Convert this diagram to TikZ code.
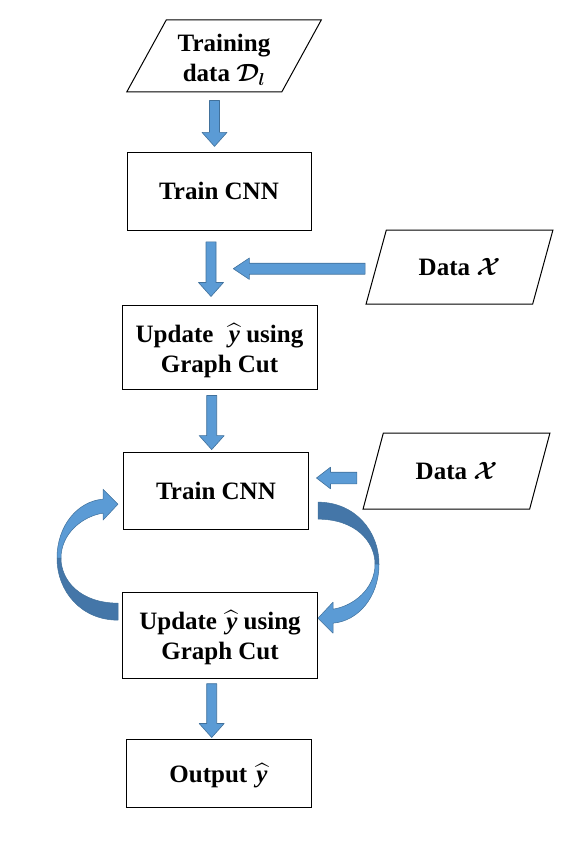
\documentclass[tikz,border=0pt]{standalone}
\usepackage{amsmath,amssymb}
\usepackage{fontspec}
\setmainfont{Liberation Serif}
\usepackage{tikz}
\usetikzlibrary{calc,shapes.geometric}
\definecolor{ink}{RGB}{0,0,0}
\definecolor{arrowfill}{RGB}{91,155,213}
\definecolor{arrowedge}{RGB}{65,113,156}
\definecolor{arrowshade}{RGB}{68,118,168}
\newcommand\flowfont{\fontsize{25}{30}\selectfont\bfseries}
\newcommand\yhat{\hspace{0.12em}$\widehat{\text{\itshape y}}$}
\newcommand\flowtext[2]{\raisebox{#1}[\height][\depth]{\begin{tabular}{@{}c@{}}#2\end{tabular}}}
\tikzset{
  stepbox/.style={draw=ink,line width=1pt,align=center,font=\flowfont,inner sep=2pt},
  databox/.style={trapezium,trapezium left angle=63,trapezium right angle=117,
    trapezium stretches=true,draw=ink,line width=1pt,align=center,font=\flowfont},
  blockarrow/.style n args={3}{draw=arrowedge,fill=arrowfill,line width=0.6pt,line join=round,
    to path={($(\tikztostart)!#1!90:(\tikztotarget)$)
      -- ($($(\tikztotarget)!#3!(\tikztostart)$)!#1!90:(\tikztotarget)$)
      -- ($($(\tikztotarget)!#3!(\tikztostart)$)!#2!90:(\tikztotarget)$)
      -- (\tikztotarget)
      -- ($($(\tikztotarget)!#3!(\tikztostart)$)!#2!-90:(\tikztotarget)$)
      -- ($($(\tikztotarget)!#3!(\tikztostart)$)!#1!-90:(\tikztotarget)$)
      -- ($(\tikztostart)!#1!-90:(\tikztotarget)$) -- cycle}},
  downarrow/.style={blockarrow={5pt}{12.5pt}{14pt}},
  sidearrow/.style={blockarrow={5.5pt}{10.7pt}{16pt}},
  ribbon/.style={draw=arrowedge,line width=0.5pt,line join=round},
  loopribbon/.pic={
    % lower half, seen from below
    \fill[ribbon,fill=arrowshade] (-100,59) .. controls (-137,59) and (-161,30) .. (-161,-3)
      -- (-157,-3) .. controls (-157,20) and (-137,42) .. (-100,42) -- cycle;
    % upper half with the head
    \fill[ribbon,fill=arrowfill] (-161,-3) .. controls (-161,-36) and (-140,-60) .. (-115,-62)
      -- (-115,-72) -- (-100,-57) -- (-115,-41) -- (-115,-48)
      .. controls (-135,-45) and (-157,-28) .. (-157,-3) -- cycle;
  }
}
\begin{document}
\begin{tikzpicture}[x=1pt,y=-1pt]
  \useasboundingbox (0,0) rectangle (581,842);

  \node[databox,minimum width=195,minimum height=72] (dataD) at (224,56)
    {\flowtext{-5pt}{Training\\data $\boldsymbol{\mathcal{D}_l}$}};
  \node[stepbox,minimum width=184,minimum height=78] (train1) at (219,191.3) {Train CNN};
  \node[stepbox,minimum width=195,minimum height=84] (update1) at (219.5,347)
    {\flowtext{-4pt}{Update\hspace{0.25em} \yhat{} using\\Graph Cut}};
  \node[databox,minimum width=187,minimum height=74] (dataX1) at (459.5,267)
    {Data $\boldsymbol{\mathcal{X}}$};
  \node[stepbox,minimum width=185,minimum height=77] (train2) at (216,491.3) {Train CNN};
  \node[databox,minimum width=187,minimum height=76] (dataX2) at (456.5,471)
    {Data $\boldsymbol{\mathcal{X}}$};
  \node[stepbox,minimum width=195,minimum height=86] (update2) at (220,635.5)
    {\flowtext{-3pt}{Update \yhat{} using\\Graph Cut}};
  \node[stepbox,minimum width=185,minimum height=68] (output) at (218.5,773)
    {\flowtext{-3pt}{Output \yhat}};

  \coordinate (join1) at (233.3,268.7);
  \coordinate (loopc) at ($(train2.south)!.5!(update2.north)$);

  % main flow
  \draw[downarrow] ([xshift=-9.5pt,yshift=-8pt]dataD.south) to ([xshift=-4.5pt,yshift=5.4pt]train1.north);
  \draw[downarrow] ([xshift=-8pt,yshift=-11pt]train1.south) to ([xshift=-8.5pt,yshift=8pt]update1.north);
  \draw[downarrow] ([xshift=-7.8pt,yshift=-6pt]update1.south) to ([xshift=-4.3pt,yshift=2.7pt]train2.north);
  \draw[downarrow] ([xshift=-8.3pt,yshift=-4.7pt]update2.south) to ([xshift=-6.8pt,yshift=1pt]output.north);

  % data inputs
  \draw[sidearrow] ([xshift=-10.5pt,yshift=-1.7pt]dataX1.west) to (join1);
  \draw[blockarrow={5.8pt}{10.8pt}{14pt}] ([xshift=-15.8pt,yshift=-7pt]dataX2.west)
    to ([xshift=7.5pt,yshift=13.3pt]train2.east);

  % alternating loop
  \pic at (loopc) {loopribbon};
  \pic[rotate=180] at (loopc) {loopribbon};
\end{tikzpicture}
\end{document}
